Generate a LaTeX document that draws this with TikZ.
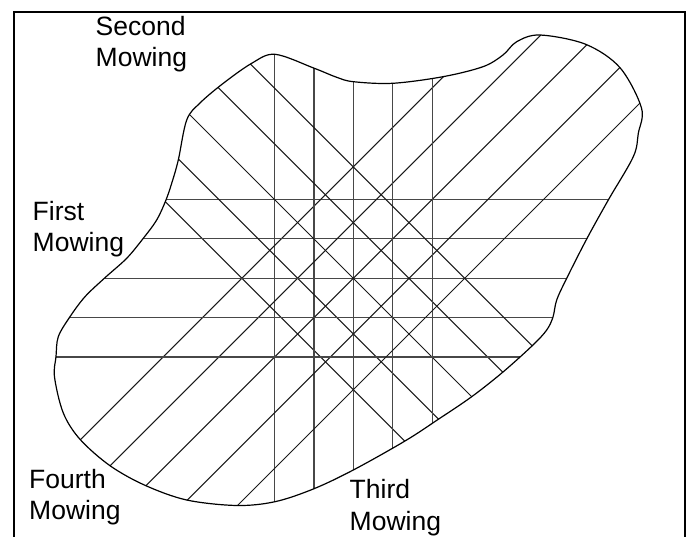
\documentclass[tikz,border=0pt]{standalone}
\usepackage{fontspec}
\setmainfont{Liberation Sans}
\usepackage{tikz}

\begin{document}
\begin{tikzpicture}[
    x=1pt, y=-1pt,
    mowtext/.style={font=\fontsize{26.5pt}{31.5pt}\selectfont, align=left, inner sep=0pt, anchor=base west},
    gridline/.style={line width=1.2pt, draw=black!72},
    diagline/.style={line width=1pt, draw=black!90},
    outline/.style={line width=1.2pt, draw=black},
    frame/.style={line width=2pt, draw=black}
]
    \useasboundingbox (0,0) rectangle (691,537);
    \draw[frame] (14,537) -- (14,12) -- (685,12) -- (685,537);

    % the field
    \path[save path=\field] plot[smooth cycle, tension=0.55] coordinates {
        (275,54.3) (314.3,68.3) (336.7,77.3) (353.3,81.7) (392.7,83.3) (443,76.7)
        (483,66.7) (503,55) (516.7,41.7) (540,35) (585.7,44.3) (620,67.7)
        (641.5,108) (638.3,133.3) (633.3,156.7) (608.3,200) (586.7,239) (566.7,278.3)
        (556.7,300) (553,317) (546.7,330) (533,345) (503,372) (471.7,396.7)
        (438.3,419.3) (405,441) (353.3,470) (313.3,489) (275,501.7) (236.7,505.5)
        (186.7,500) (145,485.3) (110,465.7) (80,439.3) (63.3,413) (54.5,377)
        (56,356.7) (58.3,336.7) (70,316.7) (85,296.7) (105,277.7) (126.7,258.3)
        (143.3,238.3) (156.7,220) (165.7,200.7) (171.7,183.3) (178.3,160) (186.7,120)
        (200,103) (223.3,83.3) (251.7,63.3)};

    \begin{scope}
        \clip[use path=\field];
        \foreach \k in {-2,...,2} {
            % first and second mowing
            \draw[gridline] (0,{278.3+39.4*\k}) -- (691,{278.3+39.4*\k});
            \draw[gridline] ({353.3+39.4*\k},0) -- ({353.3+39.4*\k},537);
            % third and fourth mowing
            \draw[diagline] ({75+55.7*\k},0) -- ({612+55.7*\k},537);
            \draw[diagline] ({631.6+55.7*\k},0) -- ({94.6+55.7*\k},537);
        }
    \end{scope}
    \draw[outline, use path=\field];

    % base is the last line
    \node[mowtext] (second) at (95.5,67) {Second\\Mowing};
    \node[mowtext] (first) at (32.5,252) {First\\Mowing};
    \node[mowtext] (fourth) at (29,519.5) {Fourth\\Mowing};
    \node[mowtext] (third) at (349.5,530) {Third\\Mowing};
\end{tikzpicture}
\end{document}
